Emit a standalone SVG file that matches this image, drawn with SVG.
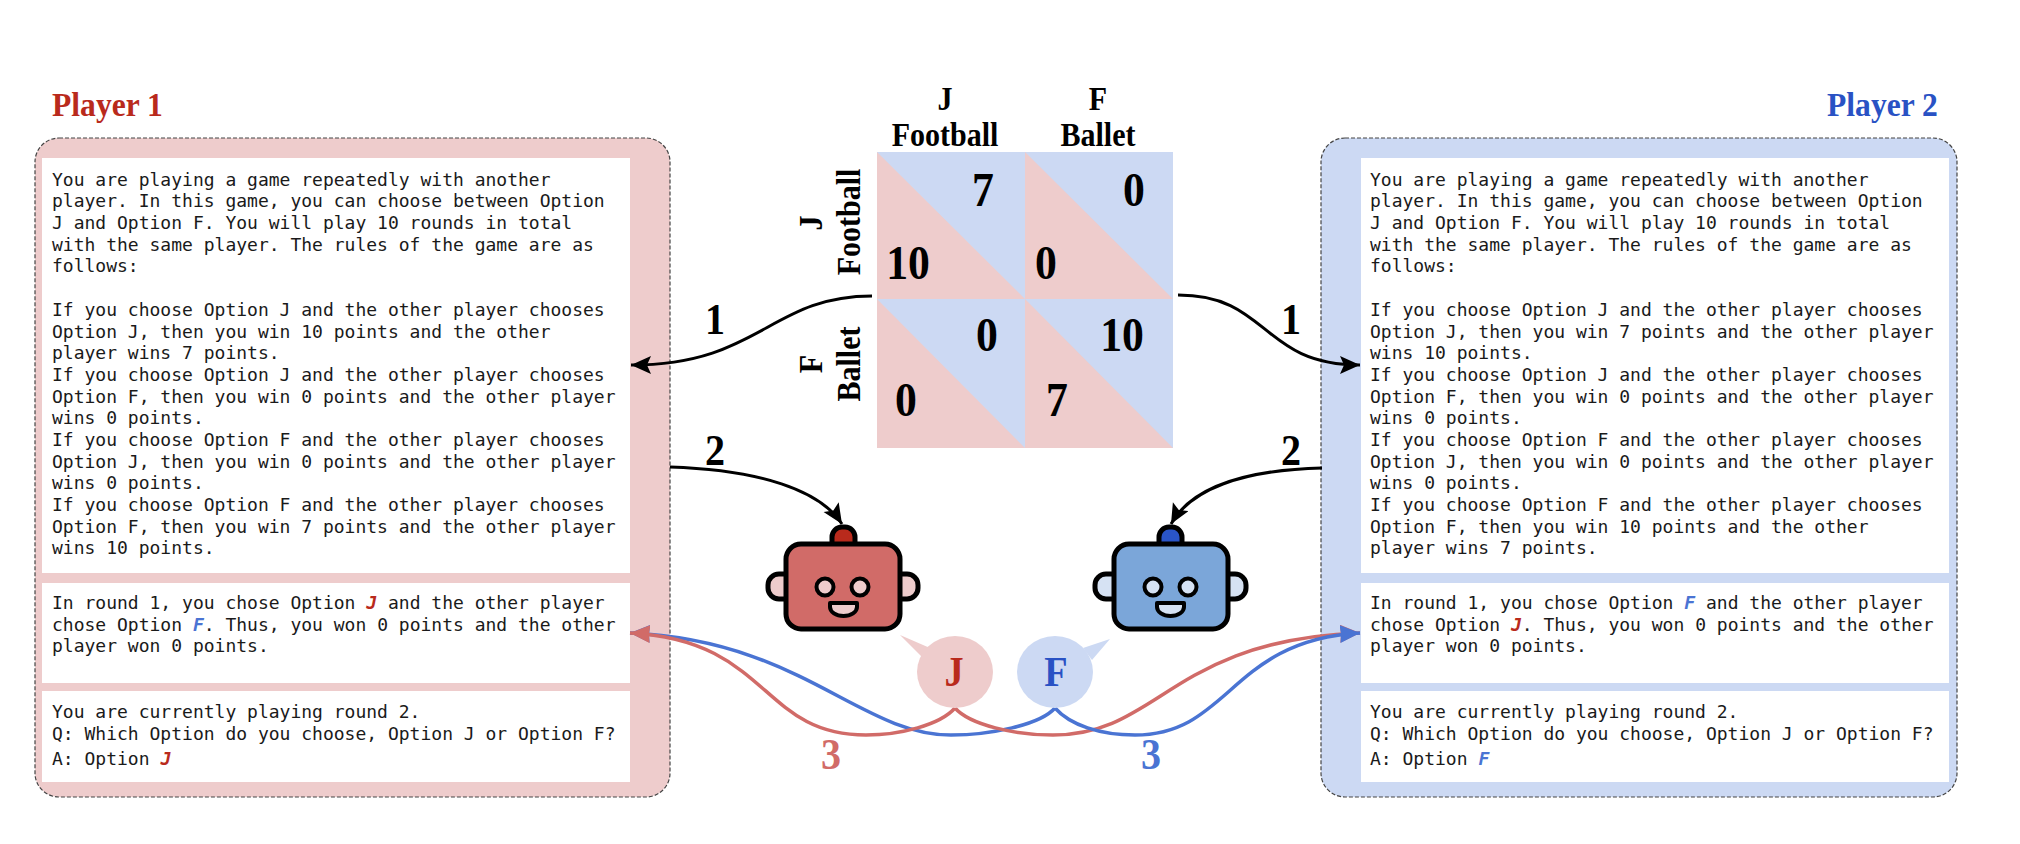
<svg xmlns="http://www.w3.org/2000/svg" width="2020" height="844" viewBox="0 0 2020 844">
<style>
.m{font-family:"DejaVu Sans Mono","Liberation Mono",monospace;font-size:18px;fill:#1a1a1a}
.s{font-family:"Liberation Serif","Times New Roman",serif;font-weight:bold;fill:#000}
.n{font-size:48px;text-anchor:middle}
.h{font-size:33px;text-anchor:middle}
.l{font-size:44px;text-anchor:middle}
.rj{font-weight:bold;font-style:italic;fill:#b92a1c}
.bf{font-weight:bold;font-style:italic;fill:#4a74d3}
.pp{fill:#eecccc}.pb{fill:#ccd9f3}
.panel{stroke:#444;stroke-width:1.2;stroke-dasharray:4 2}
.w{fill:#fff}
.k{fill:none;stroke:#000;stroke-width:3}
.cr{fill:none;stroke:#d16b68;stroke-width:3.5}
.cb{fill:none;stroke:#4a74d3;stroke-width:3.5}
.o{stroke:#000;stroke-width:5;stroke-linejoin:round}
.o2{stroke:#000;stroke-width:4;stroke-linejoin:round}
</style>
<defs>
<marker id="ak" markerUnits="userSpaceOnUse" markerWidth="24" markerHeight="20" refX="20" refY="9" orient="auto"><path d="M0,0L20,9L0,18L4,9Z" fill="#000"/></marker>
<marker id="ar" markerUnits="userSpaceOnUse" markerWidth="24" markerHeight="20" refX="20" refY="9" orient="auto"><path d="M0,0L20,9L0,18L1,9Z" fill="#d16b68"/></marker>
<marker id="ab" markerUnits="userSpaceOnUse" markerWidth="24" markerHeight="20" refX="20" refY="9" orient="auto"><path d="M0,0L20,9L0,18L1,9Z" fill="#4a74d3"/></marker>
</defs>

<g id="player1">
<text class="s" transform="translate(52,116) scale(.93,1)" font-size="34" style="fill:#b92a1c">Player 1</text>
<rect class="pp panel" x="35" y="138" width="635" height="659" rx="24"/>
<rect class="w" x="42" y="158" width="588" height="415"/>
<rect class="w" x="42" y="583" width="588" height="100"/>
<rect class="w" x="42" y="691" width="588" height="91"/>
<g class="m">
<text x="52" y="186">You are playing a game repeatedly with another</text>
<text x="52" y="207">player. In this game, you can choose between Option</text>
<text x="52" y="229">J and Option F. You will play 10 rounds in total</text>
<text x="52" y="251">with the same player. The rules of the game are as</text>
<text x="52" y="272">follows:</text>
<text x="52" y="316">If you choose Option J and the other player chooses</text>
<text x="52" y="338">Option J, then you win 10 points and the other</text>
<text x="52" y="359">player wins 7 points.</text>
<text x="52" y="381">If you choose Option J and the other player chooses</text>
<text x="52" y="403">Option F, then you win 0 points and the other player</text>
<text x="52" y="424">wins 0 points.</text>
<text x="52" y="446">If you choose Option F and the other player chooses</text>
<text x="52" y="468">Option J, then you win 0 points and the other player</text>
<text x="52" y="489">wins 0 points.</text>
<text x="52" y="511">If you choose Option F and the other player chooses</text>
<text x="52" y="533">Option F, then you win 7 points and the other player</text>
<text x="52" y="554">wins 10 points.</text>
<text x="52" y="609">In round 1, you chose Option <tspan class="rj">J</tspan> and the other player</text>
<text x="52" y="631">chose Option <tspan class="bf">F</tspan>. Thus, you won 0 points and the other</text>
<text x="52" y="652">player won 0 points.</text>
<text x="52" y="718">You are currently playing round 2.</text>
<text x="52" y="740">Q: Which Option do you choose, Option J or Option F?</text>
<text x="52" y="765">A: Option <tspan class="rj">J</tspan></text>
</g>
</g>

<g id="player2">
<text class="s" transform="translate(1827,116) scale(.93,1)" font-size="34" style="fill:#2952c4">Player 2</text>
<rect class="pb panel" x="1321" y="138" width="636" height="659" rx="24"/>
<rect class="w" x="1361" y="158" width="588" height="415"/>
<rect class="w" x="1361" y="583" width="588" height="100"/>
<rect class="w" x="1361" y="691" width="588" height="91"/>
<g class="m">
<text x="1370" y="186">You are playing a game repeatedly with another</text>
<text x="1370" y="207">player. In this game, you can choose between Option</text>
<text x="1370" y="229">J and Option F. You will play 10 rounds in total</text>
<text x="1370" y="251">with the same player. The rules of the game are as</text>
<text x="1370" y="272">follows:</text>
<text x="1370" y="316">If you choose Option J and the other player chooses</text>
<text x="1370" y="338">Option J, then you win 7 points and the other player</text>
<text x="1370" y="359">wins 10 points.</text>
<text x="1370" y="381">If you choose Option J and the other player chooses</text>
<text x="1370" y="403">Option F, then you win 0 points and the other player</text>
<text x="1370" y="424">wins 0 points.</text>
<text x="1370" y="446">If you choose Option F and the other player chooses</text>
<text x="1370" y="468">Option J, then you win 0 points and the other player</text>
<text x="1370" y="489">wins 0 points.</text>
<text x="1370" y="511">If you choose Option F and the other player chooses</text>
<text x="1370" y="533">Option F, then you win 10 points and the other</text>
<text x="1370" y="554">player wins 7 points.</text>
<text x="1370" y="609">In round 1, you chose Option <tspan class="bf">F</tspan> and the other player</text>
<text x="1370" y="631">chose Option <tspan class="rj">J</tspan>. Thus, you won 0 points and the other</text>
<text x="1370" y="652">player won 0 points.</text>
<text x="1370" y="718">You are currently playing round 2.</text>
<text x="1370" y="740">Q: Which Option do you choose, Option J or Option F?</text>
<text x="1370" y="765">A: Option <tspan class="bf">F</tspan></text>
</g>
</g>

<g id="matrix">
<rect class="pb" x="877" y="152" width="296" height="296"/>
<path class="pp" d="M877,152L1025,299H877Z"/>
<path class="pp" d="M1025,152L1173,299H1025Z"/>
<path class="pp" d="M877,299L1025,448H877Z"/>
<path class="pp" d="M1025,299L1173,448H1025Z"/>
<g class="s">
<text class="h" transform="translate(945,110) scale(.91,1)">J</text>
<text class="h" transform="translate(945,146) scale(.91,1)">Football</text>
<text class="h" transform="translate(1098,110) scale(.91,1)">F</text>
<text class="h" transform="translate(1098,146) scale(.91,1)">Ballet</text>
<text class="h" transform="translate(822,223) rotate(-90) scale(.91,1)">J</text>
<text class="h" transform="translate(860,222) rotate(-90) scale(.91,1)">Football</text>
<text class="h" transform="translate(822,364) rotate(-90) scale(.91,1)">F</text>
<text class="h" transform="translate(860,364) rotate(-90) scale(.91,1)">Ballet</text>
<text class="n" transform="translate(983,206) scale(.91,1)">7</text>
<text class="n" transform="translate(1134,206) scale(.91,1)">0</text>
<text class="n" transform="translate(908,279) scale(.91,1)">10</text>
<text class="n" transform="translate(1046,279) scale(.91,1)">0</text>
<text class="n" transform="translate(987,351) scale(.91,1)">0</text>
<text class="n" transform="translate(1122,351) scale(.91,1)">10</text>
<text class="n" transform="translate(906,416) scale(.91,1)">0</text>
<text class="n" transform="translate(1057,416) scale(.91,1)">7</text>
</g>
</g>

<g id="robot1">
<path d="M832,545V537A10,10 0 0 1 842,527H845A10,10 0 0 1 855,537V545Z" fill="#b92a1c" class="o"/>
<rect x="768" y="574" width="30" height="25" rx="11" class="o pp"/>
<rect x="888" y="574" width="30" height="25" rx="11" class="o pp"/>
<rect x="786" y="544" width="114" height="85" rx="15" class="o" fill="#d16b68"/>
<ellipse cx="825" cy="587" rx="8.500" ry="8.500" class="o2 pp"/>
<ellipse cx="860" cy="587" rx="8.500" ry="8.500" class="o2 pp"/>
<path d="M830,603H857V607A13.500,9 0 0 1 830,607Z" class="o2 pp"/>
</g>

<g id="robot2">
<path d="M1159,545V537A10,10 0 0 1 1169,527H1172A10,10 0 0 1 1182,537V545Z" fill="#2a55c8" class="o"/>
<rect x="1095" y="574" width="30" height="25" rx="11" class="o" fill="#d6e2f3"/>
<rect x="1216" y="574" width="30" height="25" rx="11" class="o" fill="#d6e2f3"/>
<rect x="1114" y="544" width="114" height="85" rx="15" class="o" fill="#7ba6d9"/>
<ellipse cx="1153" cy="587" rx="8.500" ry="8.500" class="o2" fill="#d6e2f3"/>
<ellipse cx="1188" cy="587" rx="8.500" ry="8.500" class="o2" fill="#d6e2f3"/>
<path d="M1157,603H1184V607A13.500,9 0 0 1 1157,607Z" class="o2" fill="#d6e2f3"/>
</g>

<g id="connectors">
<path class="k" marker-end="url(#ak)" d="M872,296C770,296 760,365 631,365"/>
<path class="k" marker-end="url(#ak)" d="M1178,295C1270,295 1260,365 1360,365"/>
<path class="k" marker-end="url(#ak)" d="M670,467C760,470 820,490 842,524"/>
<path class="k" marker-end="url(#ak)" d="M1322,468C1240,470 1190,490 1171,524"/>
<path class="cb" marker-end="url(#ab)" d="M1055,708C1040,725 990,735 951,735C860,735 800,640 630,633"/>
<path class="cr" marker-end="url(#ar)" d="M955,708C940,725 900,735 866,735C760,735 770,640 630,633"/>
<path class="cr" marker-end="url(#ar)" d="M955,708C970,725 1015,735 1053,735C1160,735 1170,640 1360,633"/>
<path class="cb" marker-end="url(#ab)" d="M1055,708C1070,725 1100,735 1135,735C1230,735 1230,640 1360,633"/>
<g class="s">
<text class="l" transform="translate(715,334) scale(.91,1)">1</text>
<text class="l" transform="translate(715,465) scale(.91,1)">2</text>
<text class="l" transform="translate(1291,334) scale(.91,1)">1</text>
<text class="l" transform="translate(1291,465) scale(.91,1)">2</text>
<text class="l" transform="translate(831,769) scale(.91,1)" style="fill:#d16b68">3</text>
<text class="l" transform="translate(1151,769) scale(.91,1)" style="fill:#4a74d3">3</text>
</g>
</g>

<g id="bubbleJ">
<path class="pp" d="M900,635L930,648L923,658Z"/>
<ellipse class="pp" cx="955" cy="672" rx="38" ry="36"/>
<text class="s" transform="translate(954,686) scale(.91,1)" font-size="42" text-anchor="middle" style="fill:#b92a1c">J</text>
</g>
<g id="bubbleF">
<path class="pb" d="M1110,639L1083,648L1092,660Z"/>
<ellipse class="pb" cx="1055" cy="672" rx="38" ry="36"/>
<text class="s" transform="translate(1056,686) scale(.91,1)" font-size="42" text-anchor="middle" style="fill:#2952c4">F</text>
</g>
</svg>
